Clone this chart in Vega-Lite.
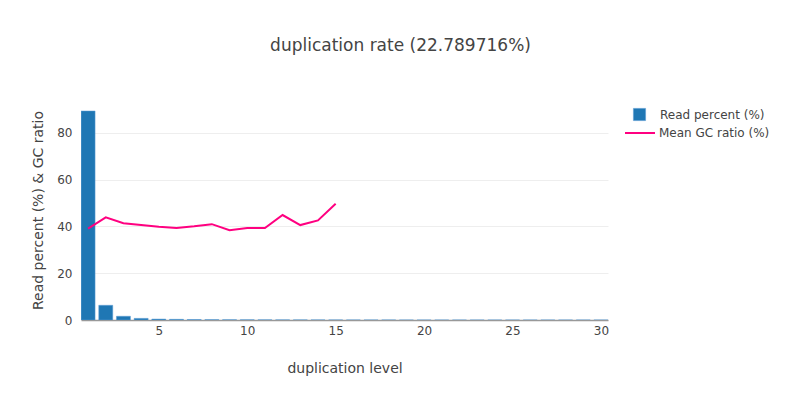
{
  "$schema": "https://vega.github.io/schema/vega-lite/v6.json",
  "autosize": "none",
  "width": 527,
  "height": 220,
  "padding": {"left": 81, "top": 100, "right": 192, "bottom": 80},
  "background": "white",
  "title": {
    "text": "duplication rate (22.789716%)",
    "font": "DejaVu Sans",
    "fontSize": 17,
    "fontWeight": "normal",
    "color": "#444",
    "anchor": "middle",
    "frame": "group",
    "dx": 56,
    "offset": 45
  },
  "data": {
    "values": [
      {"level": 1, "read": 89.4, "gc": 39.1},
      {"level": 2, "read": 6.3, "gc": 43.9},
      {"level": 3, "read": 1.6, "gc": 41.4},
      {"level": 4, "read": 0.7, "gc": 40.6},
      {"level": 5, "read": 0.4, "gc": 39.9},
      {"level": 6, "read": 0.3, "gc": 39.4},
      {"level": 7, "read": 0.2, "gc": 40.1},
      {"level": 8, "read": 0.15, "gc": 41.0},
      {"level": 9, "read": 0.12, "gc": 38.4},
      {"level": 10, "read": 0.1, "gc": 39.3},
      {"level": 11, "read": 0.08, "gc": 39.3},
      {"level": 12, "read": 0.06, "gc": 44.9},
      {"level": 13, "read": 0.05, "gc": 40.6},
      {"level": 14, "read": 0.04, "gc": 42.6},
      {"level": 15, "read": 0.03, "gc": 49.7},
      {"level": 16, "read": 0.02, "gc": null},
      {"level": 17, "read": 0.02, "gc": null},
      {"level": 18, "read": 0.02, "gc": null},
      {"level": 19, "read": 0.01, "gc": null},
      {"level": 20, "read": 0.01, "gc": null},
      {"level": 21, "read": 0.01, "gc": null},
      {"level": 22, "read": 0.01, "gc": null},
      {"level": 23, "read": 0.01, "gc": null},
      {"level": 24, "read": 0.01, "gc": null},
      {"level": 25, "read": 0.01, "gc": null},
      {"level": 26, "read": 0.01, "gc": null},
      {"level": 27, "read": 0.01, "gc": null},
      {"level": 28, "read": 0.01, "gc": null},
      {"level": 29, "read": 0.01, "gc": null},
      {"level": 30, "read": 0.01, "gc": null}
    ]
  },
  "encoding": {
    "x": {
      "field": "level",
      "type": "quantitative",
      "scale": {"domain": [0.6, 30.4], "nice": false, "zero": false, "padding": 0},
      "axis": {
        "values": [5, 10, 15, 20, 25, 30],
        "title": "duplication level",
        "grid": false,
        "ticks": false,
        "domain": true,
        "domainColor": "#999",
        "domainWidth": 1.5,
        "labelPadding": 5,
        "titlePadding": 25
      }
    }
  },
  "layer": [
    {
      "mark": {"type": "bar", "size": 14, "stroke": "#5f9fd6", "strokeWidth": 0.5, "clip": true},
      "encoding": {
        "y": {
          "field": "read",
          "type": "quantitative",
          "scale": {"domain": [0, 94.1], "nice": false},
          "axis": {
            "values": [0, 20, 40, 60, 80],
            "title": "Read percent (%) & GC ratio",
            "grid": true,
            "gridColor": "#eee",
            "ticks": false,
            "domain": false,
            "labelPadding": 9,
            "titlePadding": 11
          }
        },
        "color": {
          "datum": "Read percent (%)",
          "scale": {"domain": ["Read percent (%)"], "range": ["#1f77b4"]},
          "legend": {
            "title": null,
            "orient": "none",
            "legendX": 552,
            "legendY": 8,
            "padding": 0,
            "symbolType": "square",
            "symbolSize": 150,
            "symbolStrokeColor": "#5f9fd6",
            "symbolStrokeWidth": 0.5,
            "symbolOpacity": 1,
            "labelFontSize": 12,
            "labelOffset": 14
          }
        }
      }
    },
    {
      "mark": {"type": "line", "strokeWidth": 2},
      "transform": [{"filter": "datum.gc != null"}],
      "encoding": {
        "y": {"field": "gc", "type": "quantitative"},
        "stroke": {
          "datum": "Mean GC ratio (%)",
          "scale": {"domain": ["Mean GC ratio (%)"], "range": ["#ff0080"]},
          "legend": {
            "title": null,
            "orient": "none",
            "legendX": 543,
            "legendY": 17,
            "padding": 0,
            "symbolType": "stroke",
            "symbolSize": 900,
            "symbolStrokeWidth": 2,
            "labelFontSize": 12,
            "labelOffset": 3
          }
        }
      }
    }
  ],
  "config": {
    "font": "DejaVu Sans",
    "view": {"stroke": null},
    "axis": {
      "labelFont": "DejaVu Sans",
      "titleFont": "DejaVu Sans",
      "labelFontSize": 12,
      "titleFontSize": 14,
      "titleFontWeight": "normal",
      "labelColor": "#444",
      "titleColor": "#444"
    },
    "legend": {"labelFont": "DejaVu Sans", "labelColor": "#444"}
  }
}
